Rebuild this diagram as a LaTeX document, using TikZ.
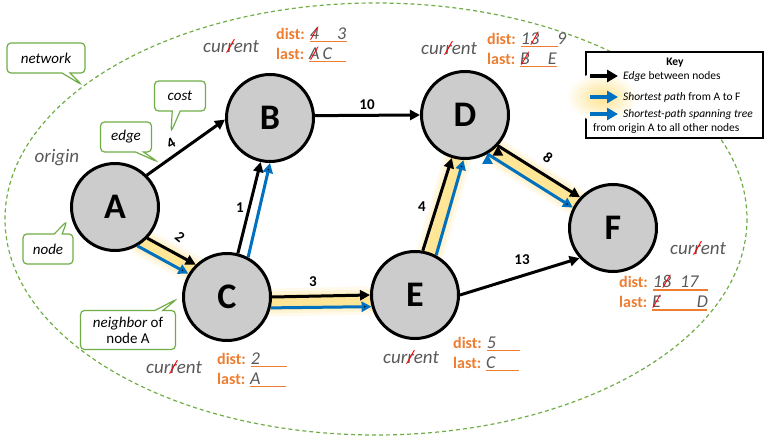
\documentclass[tikz,border=0pt]{standalone}
\usepackage{fontspec}
\setmainfont{Carlito}
\usetikzlibrary{arrows.meta,shapes.callouts,backgrounds}
\definecolor{nodegray}{RGB}{204,204,204}
\definecolor{pathblue}{RGB}{0,112,192}
\definecolor{netgreen}{RGB}{112,173,71}
\definecolor{distorange}{RGB}{237,125,49}
\definecolor{inkgray}{RGB}{89,89,89}
\definecolor{glowcol}{RGB}{255,214,90}
% red stroke through a letter
\newcommand\crossout[1]{\ooalign{#1\cr\hidewidth\textcolor{red}{/}\hidewidth\cr}}
% orange line under a value
\newcommand\blank[2]{\rlap{\textcolor{distorange}{\rule[-3pt]{#1}{1.3pt}}}#2}
\newcommand\cur{cur\crossout{r}ent}
\newcommand\rec[3]{%
  \textcolor{distorange}{\bfseries dist:}\hspace{5pt}\blank{#1}{\textcolor{inkgray}{\fontsize{18}{20}\selectfont\itshape #2}}\\
  \textcolor{distorange}{\bfseries last:}\hspace{5pt}\blank{#1}{\textcolor{inkgray}{\fontsize{18}{20}\selectfont\itshape #3}}}
\tikzset{
    %Define standard arrow tip
    >={Triangle[length=10pt,width=10pt]},
    %Define style for nodes
    vertex/.style={
           circle,
           draw=black, line width=3pt,
           fill=nodegray,
           minimum size=87pt,
           inner sep=0pt,
           font=\fontsize{36}{36}\selectfont\bfseries},
    % Define arrow styles
    link/.style={
           ->,
           line width=3pt,
           draw=black},
    tree/.style={
           ->,
           line width=3pt,
           draw=pathblue},
    glow/.style={
           draw=glowcol,
           line cap=round,
           line width=#1},
    elabel/.style={font=\fontsize{15}{15}\selectfont\bfseries},
    note/.style={
           rectangle callout,
           draw=netgreen, line width=1.2pt,
           fill=white,
           rounded corners=4pt,
           callout pointer width=8pt,
           align=center,
           font=\fontsize{15}{16}\selectfont\itshape},
    hand/.style={text=inkgray, font=\fontsize{19}{19}\selectfont\itshape},
    record/.style={anchor=west, align=left, inner sep=0pt,
           font=\fontsize{16}{20}\selectfont},
    network/.style={draw=netgreen, line width=1.2pt, dash pattern=on 4pt off 3pt},
    keybox/.style={draw=black, line width=1.5pt, fill=white},
    keytext/.style={anchor=west, inner sep=0pt, font=\fontsize{11.5}{12}\selectfont},
    keyarrow/.style={-{Triangle[length=11pt,width=12pt]}, line width=4.5pt}
}

\begin{document}
\begin{tikzpicture}[x=1pt,y=-1pt]
\useasboundingbox (0,0) rectangle (765,438);

 %network
\draw[network] (376,219) ellipse (371 and 216);

 %key
\draw[keybox] (586,52) rectangle (763,138);
\shade[inner color=glowcol!70, outer color=white] (602,97) ellipse (36 and 24);
\node[keytext, anchor=center, font=\fontsize{11.5}{12}\selectfont\bfseries] (key) at (675,63) {Key};
\node[keytext] (k1) at (623,76) {\textit{Edge} between nodes};
\node[keytext] (k2) at (623,97) {\textit{Shortest path} from A to F};
\node[keytext] (k3) at (623,114) {\textit{Shortest-path spanning tree}};
\node[keytext] (k4) at (593,128) {from origin A to all other nodes};
\draw[keyarrow, black] ([xshift=-33pt]k1.west) -- ([xshift=-5pt]k1.west);
\draw[keyarrow, pathblue] ([xshift=-33pt]k2.west) -- ([xshift=-5pt]k2.west);
\draw[keyarrow, pathblue] ([xshift=-33pt]k3.west) -- ([xshift=-5pt]k3.west);

 %nodes
\node[vertex] (A) at (115,207) {A};
\node[vertex] (B) at (270,118) {B};
\node[vertex] (C) at (227,297) {C};
\node[vertex] (D) at (465,115) {D};
\node[vertex] (E) at (415,295) {E};
\node[vertex] (F) at (613,228) {F};

 %glow of the shortest path
\begin{scope}[on background layer]
\foreach \w/\o in {28/0.12,22/0.15,16/0.25,10/0.35}
  \path[glow=\w pt, opacity=\o] (A.-52) edge (C.141)
      (C.-7) edge (E.187)
      (E.70) edge (D.260)
      (D.-52) edge (F.145);
\end{scope}

 %edges
\path[link] (A.45) edge (B.182)
  (A.-44) edge (C.134)
  (B.3) edge (D.180)
  (C.76) edge (B.258)
  (C.0) edge (E.180)
  (E.80) edge (D.253)
  (E.0) edge (F.222)
  (D.-43) edge (F.137);
\path[tree] (A.-60) edge (C.149)
  (C.62) edge (B.270)
  (C.-14) edge (E.195)
  (E.62) edge (D.268)
  (D.-60) edge (F.153);

 %costs
\node[elabel, rotate=30] (cAB) at (171,143) {4};
\node[elabel, rotate=-39] (cAC) at (180,237) {2};
\node[elabel] (cCB) at (240,208) {1};
\node[elabel] (cBD) at (367,105) {10};
\node[elabel] (cCE) at (313,282) {3};
\node[elabel] (cED) at (422,207) {4};
\node[elabel, rotate=-37] (cDF) at (548,158) {8};
\node[elabel] (cEF) at (522,260) {13};

 %notes
\node[note, minimum width=78pt, minimum height=30pt, callout absolute pointer={(82,85)}] (netnote) at (46,58) {network};
\node[note, minimum width=51pt, minimum height=30pt, callout absolute pointer={(171,132)}] (costnote) at (180,96) {cost};
\node[note, minimum width=51pt, minimum height=30pt, callout absolute pointer={(158,162)}] (edgenote) at (126,137) {edge};
\node[note, minimum width=50pt, minimum height=30pt, callout absolute pointer={(67,221)}] (nodenote) at (48,249) {node};
\node[note, minimum width=95pt, minimum height=39pt, callout absolute pointer={(177,299)}] (nbnote) at (128,330) {neighbor \upshape of\\ \upshape node A};

 %labels
\node[hand] (orig) at (57,158) {origin};
\node[hand] (curB) at (231,47) {\cur};
\node[hand] (curD) at (449,49) {\cur};
\node[hand] (curC) at (174,368) {\cur};
\node[hand] (curE) at (411,358) {\cur};
\node[hand] (curF) at (698,249) {\cur};

 %records
\node[record] (recB) at (276,45) {\rec{37pt}{\crossout{4}\quad 3}{\crossout{A}\,C}};
\node[record] (recD) at (487,50) {\rec{37pt}{1\crossout{3}\quad 9}{\crossout{B}\quad E}};
\node[record] (recC) at (217,370) {\rec{36pt}{2}{A}};
\node[record] (recE) at (453,354) {\rec{33pt}{5}{C}};
\node[record] (recF) at (619,293) {\rec{55pt}{1\crossout{8}\enspace 17}{\crossout{E}\qquad D}};

\end{tikzpicture}
\end{document}
